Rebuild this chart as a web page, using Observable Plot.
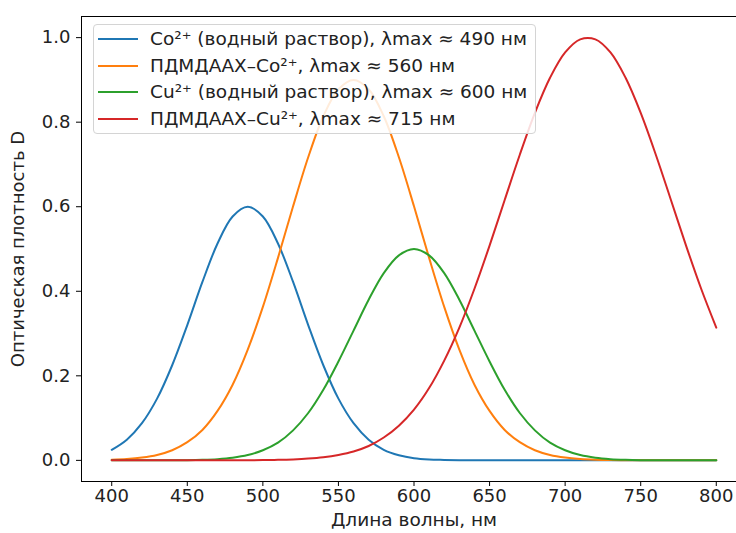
<!DOCTYPE html>
<html>
<head>
<meta charset="utf-8">
<script src="https://cdn.jsdelivr.net/npm/d3@7"></script>
<script src="https://cdn.jsdelivr.net/npm/@observablehq/plot@0.6"></script>
<style>
  html, body { margin: 0; padding: 0; background: #fff; }
  #wrap { position: relative; width: 736px; height: 533px; overflow: hidden; font-family: "DejaVu Sans", sans-serif; }
  #legend { position: absolute; left: 93px; top: 24px; width: 443px; height: 110px; box-sizing: border-box;
    border: 1px solid #d4d4d4; border-radius: 4px; background: rgba(255,255,255,0.85); }
  .row { position: absolute; left: 0; height: 22px; }
  .sw { position: absolute; left: 4px; width: 40px; height: 0; border-top: 2px solid; }
  .lab { position: absolute; left: 56px; top: 0; white-space: nowrap; font-size: 18.5px; color: #222; line-height: 22px; }
</style>
</head>
<body>
<div id="wrap"><div id="chart"></div><div id="legend"></div></div>
<script>
// Wavelength grid (nm)
const wavelengths = [400,410,420,430,440,450,460,470,480,490,500,510,520,530,540,550,560,570,580,590,600,
  610,620,630,640,650,660,670,680,690,700,710,720,730,740,750,760,770,780,790,800];

// Series names
const seriesNames = [
  "Co²⁺ (водный раствор), λmax ≈ 490 нм",
  "ПДМДААХ–Co²⁺, λmax ≈ 560 нм",
  "Cu²⁺ (водный раствор), λmax ≈ 600 нм",
  "ПДМДААХ–Cu²⁺, λmax ≈ 715 нм"
];
const seriesColors = ["#1f77b4", "#ff7f0e", "#2ca02c", "#d62728"];

// Optical density values
const coAqueous = [0.025,0.049,0.088,0.146,0.225,0.320,0.422,0.513,0.577,0.600,0.577,0.513,0.422,0.320,0.225,0.146,0.088,0.049,0.025,0.012,0.005,
  0.002,0.001,0.0003,0.0001,0,0,0,0,0,0,0,0,0,0,0,0,0,0,0,0];
const pdmdaahCo = [0.0014,0.0031,0.0065,0.0127,0.024,0.043,0.072,0.117,0.179,0.262,0.363,0.479,0.601,0.717,0.814,0.878,0.900,0.878,0.814,0.717,0.601,
  0.479,0.363,0.262,0.179,0.117,0.072,0.043,0.024,0.0127,0.0065,0.0031,0.0014,0.0006,0.0003,0.0001,0,0,0,0,0];
const cuAqueous = [0,0,0,0.0001,0.0002,0.0005,0.0013,0.0029,0.0062,0.0125,0.024,0.042,0.071,0.112,0.167,0.234,0.307,0.380,0.443,0.485,0.500,
  0.485,0.443,0.380,0.307,0.234,0.167,0.112,0.071,0.042,0.024,0.0125,0.0062,0.0029,0.0013,0.0005,0.0002,0.0001,0,0,0];
const pdmdaahCu = [0,0,0,0,0,0,0,0,0.0001,0.0003,0.0006,0.0012,0.0023,0.0042,0.0074,0.0128,0.021,0.034,0.054,0.082,0.120,
  0.171,0.236,0.314,0.406,0.508,0.616,0.723,0.822,0.905,0.965,0.996,0.996,0.965,0.905,0.822,0.723,0.616,0.508,0.406,0.314];

const xTicks = [400,450,500,550,600,650,700,750,800];
const yTicks = [0.0,0.2,0.4,0.6,0.8,1.0];
const xLabel = "Длина волны, нм";
const yLabel = "Оптическая плотность D";

const allSeries = [coAqueous, pdmdaahCo, cuAqueous, pdmdaahCu];
const table = [];
allSeries.forEach((vals, si) => vals.forEach((v, i) => table.push({wl: wavelengths[i], d: v, s: seriesNames[si]})));

const chart = Plot.plot({
  width: 736,
  height: 533,
  marginLeft: 81,
  marginRight: -10,
  marginTop: 16,
  marginBottom: 52,
  style: {fontFamily: "DejaVu Sans, sans-serif", background: "#fff", color: "#000"},
  x: {domain: [380, 820]},
  y: {domain: [-0.05, 1.05]},
  color: {domain: seriesNames, range: seriesColors},
  marks: [
    Plot.axisX({ticks: xTicks, tickSize: 5, tickPadding: 3, fontSize: 18, fill: "#222", label: null, tickFormat: d3.format("d")}),
    Plot.axisY({ticks: yTicks, tickSize: 5, tickPadding: 6, fontSize: 18, fill: "#222", label: null, tickFormat: d3.format(".1f")}),
    Plot.line(table, {x: "wl", y: "d", z: "s", stroke: "s", strokeWidth: 2, curve: "catmull-rom"}),
    Plot.frame({stroke: "#000", strokeWidth: 1}),
    Plot.text([xLabel], {frameAnchor: "bottom", dy: 31, fontSize: 18.5, lineAnchor: "top", textAnchor: "middle", fill: "#222"}),
    Plot.text([yLabel], {frameAnchor: "left", dx: -63, rotate: -90, fontSize: 18, textAnchor: "middle", fill: "#222"})
  ]
});
document.getElementById("chart").appendChild(chart);

const legend = document.getElementById("legend");
seriesNames.forEach((name, i) => {
  const row = document.createElement("div");
  row.className = "row";
  row.style.top = (3 + i * 26.5) + "px";
  row.innerHTML = `<span class="sw" style="border-color:${seriesColors[i]};top:10px"></span><span class="lab">${name}</span>`;
  legend.appendChild(row);
});
</script>
</body>
</html>
